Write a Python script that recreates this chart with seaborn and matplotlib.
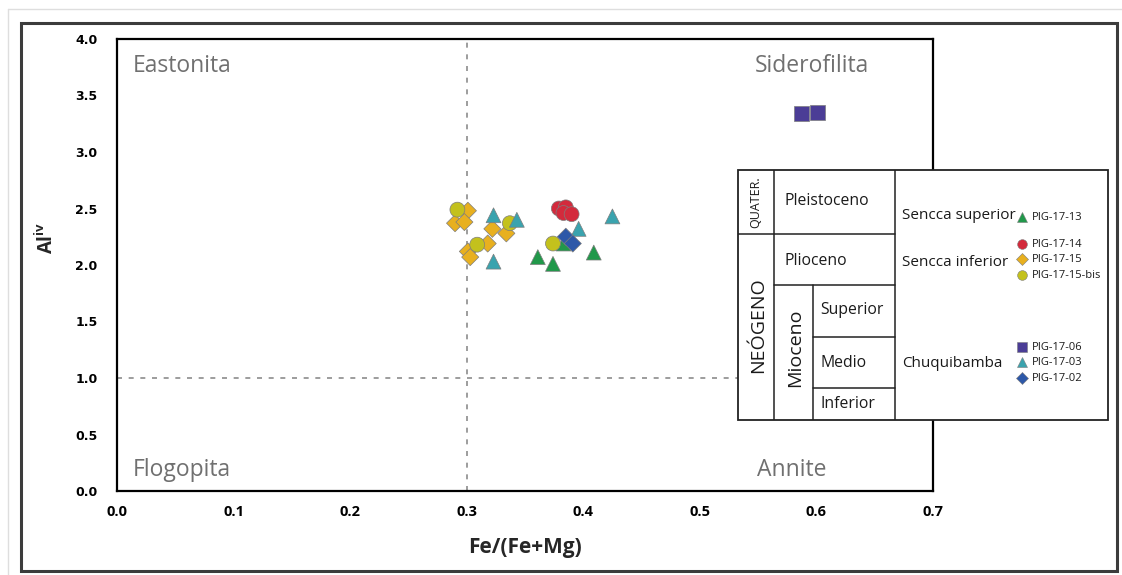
import numpy as np
import pandas as pd
import matplotlib
matplotlib.use("Agg")
import matplotlib.pyplot as plt
from matplotlib.lines import Line2D
from matplotlib.patches import Rectangle
import seaborn as sns

# ---- biotite analyses: Fe/(Fe+Mg) vs Al(iv), per sample ----
s13_fe = [0.361, 0.374, 0.409, 0.383]
s13_al = [2.07, 2.01, 2.11, 2.19]

s15_fe = [0.301, 0.290, 0.298, 0.301, 0.303, 0.318, 0.322, 0.334]
s15_al = [2.48, 2.37, 2.38, 2.12, 2.07, 2.19, 2.32, 2.28]

s15bis_fe = [0.292, 0.309, 0.337, 0.374]
s15bis_al = [2.49, 2.18, 2.37, 2.19]

s03_fe = [0.323, 0.343, 0.323, 0.396, 0.425]
s03_al = [2.44, 2.40, 2.03, 2.32, 2.43]

s02_fe = [0.385, 0.391]
s02_al = [2.25, 2.19]

s14_fe = [0.379, 0.385, 0.383, 0.390]
s14_al = [2.50, 2.51, 2.46, 2.45]

s06_fe = [0.587, 0.601]
s06_al = [3.34, 3.35]

x_ticks = [0.0, 0.1, 0.2, 0.3, 0.4, 0.5, 0.6, 0.7]
y_ticks = [0.0, 0.5, 1.0, 1.5, 2.0, 2.5, 3.0, 3.5, 4.0]

# draw order (later rows on top)
groups = [
    ("PIG-17-13", s13_fe, s13_al),
    ("PIG-17-15", s15_fe, s15_al),
    ("PIG-17-15-bis", s15bis_fe, s15bis_al),
    ("PIG-17-03", s03_fe, s03_al),
    ("PIG-17-02", s02_fe, s02_al),
    ("PIG-17-14", s14_fe, s14_al),
    ("PIG-17-06", s06_fe, s06_al),
]
df = pd.concat(
    [pd.DataFrame({"sample": name, "fe": fe, "al": al}) for name, fe, al in groups],
    ignore_index=True,
)

palette = {
    "PIG-17-13": "#21984a",
    "PIG-17-14": "#d32a3c",
    "PIG-17-15": "#e8b01f",
    "PIG-17-15-bis": "#c3c11d",
    "PIG-17-06": "#4b3d96",
    "PIG-17-03": "#3aa3ae",
    "PIG-17-02": "#2d58a8",
}
markers = {
    "PIG-17-13": "^",
    "PIG-17-14": "o",
    "PIG-17-15": "D",
    "PIG-17-15-bis": "o",
    "PIG-17-06": "s",
    "PIG-17-03": "^",
    "PIG-17-02": "D",
}
# diamonds are drawn smaller so their diagonal matches the other symbols
df["shape"] = np.where(df["sample"].map(markers) == "D", "diamond", "other")
shape_sizes = {"diamond": 76, "other": 115}

sns.set_theme(style="white")
plt.rcParams["font.family"] = ["Open Sans", "DejaVu Sans"]

W, H = 1122, 575
fig = plt.figure(figsize=(W / 100, H / 100), dpi=100)
fig.patch.set_facecolor("white")

ax = fig.add_axes([117 / W, 1 - 491 / H, (933 - 117) / W, (491 - 39) / H])
ax.set_facecolor("white")

# classification boundaries
ax.axvline(0.3, color="#8c8c8c", lw=1.2, ls=(0, (3, 4)), zorder=1)
ax.axhline(1.0, color="#8c8c8c", lw=1.2, ls=(0, (3, 4)), zorder=1)

sns.scatterplot(
    data=df, x="fe", y="al", hue="sample", style="sample",
    size="shape", sizes=shape_sizes,
    palette=palette, markers=markers,
    edgecolor="#7d7d7d", linewidth=0.5, legend=False, ax=ax, zorder=3,
)

ax.set_xlim(0, 0.7)
ax.set_ylim(0, 4)
ax.set_xticks(x_ticks)
ax.set_xticklabels([f"{v:.1f}" for v in x_ticks], fontsize=10.5, fontweight="bold")
ax.set_yticks(y_ticks)
ax.set_yticklabels([f"{v:.1f}" for v in y_ticks], fontsize=9, fontweight="bold",
                   family="DejaVu Sans")
ax.tick_params(axis="y", direction="out", length=6, width=1.2, pad=8, colors="black")
ax.tick_params(axis="x", direction="inout", length=8, width=1.2, pad=6, colors="black")
for sp in ax.spines.values():
    sp.set_color("black")
    sp.set_linewidth(1.6)

ax.set_xlabel("Fe/(Fe+Mg)", fontsize=15, fontweight="bold")
ax.xaxis.set_label_coords(0.5, -0.126)
ax.xaxis.label.set_va("center")
ax.set_ylabel(r"Al$^{\mathregular{iv}}$", fontsize=13.5, fontweight="bold")
ax.yaxis.set_label_coords(-0.086, 0.56)
ax.yaxis.label.set_va("center")

# mica end-member fields
field_kw = dict(fontsize=16.5, color="#707070", ha="left", va="baseline")
ax.text(0.0137, 3.71, "Eastonita", **field_kw)
ax.text(0.547, 3.71, "Siderofilita", **field_kw)
ax.text(0.0137, 0.135, "Flogopita", **field_kw)
ax.text(0.549, 0.135, "Annite", **field_kw)

# ---- stratigraphic legend table (drawn in its own pixel-based axes) ----
tx = fig.add_axes([738 / W, 1 - 420 / H, (1108 - 738) / W, (420 - 170) / H])
tx.set_xlim(738, 1108)
tx.set_ylim(420, 170)
tx.axis("off")
tx.add_patch(Rectangle((738, 170), 370, 250, facecolor="white",
                       edgecolor="#222222", lw=1.3, clip_on=False))
line_kw = dict(color="#222222", lw=1.1)
tx.plot([774, 774], [170, 420], **line_kw)
tx.plot([813, 813], [285, 420], **line_kw)
tx.plot([895, 895], [170, 420], **line_kw)
tx.plot([738, 895], [234, 234], **line_kw)
tx.plot([774, 895], [285, 285], **line_kw)
tx.plot([813, 895], [337, 337], **line_kw)
tx.plot([813, 895], [388, 388], **line_kw)

tk = dict(color="#1a1a1a", va="center")
tx.text(756, 202, "QUATER.", rotation=90, ha="center", fontsize=9, **tk)
tx.text(758, 325, "NEÓGENO", rotation=90, ha="center", fontsize=14, **tk)
tx.text(795, 348, "Mioceno", rotation=90, ha="center", fontsize=14, **tk)
tx.text(785, 201, "Pleistoceno", ha="left", fontsize=11.3, **tk)
tx.text(785, 261, "Plioceno", ha="left", fontsize=11.3, **tk)
tx.text(820, 310, "Superior", ha="left", fontsize=11.3, **tk)
tx.text(820, 363, "Medio", ha="left", fontsize=11.3, **tk)
tx.text(820, 404, "Inferior", ha="left", fontsize=11.3, **tk)
tx.text(902, 215, "Sencca superior", ha="left", fontsize=11, **tk)
tx.text(902, 262, "Sencca inferior", ha="left", fontsize=11, **tk)
tx.text(902, 363, "Chuquibamba", ha="left", fontsize=11, **tk)

legend_rows = [
    ("PIG-17-13", 217), ("PIG-17-14", 244), ("PIG-17-15", 259),
    ("PIG-17-15-bis", 275), ("PIG-17-06", 347), ("PIG-17-03", 362),
    ("PIG-17-02", 378),
]
for name, yy in legend_rows:
    ms = 6.0 if markers[name] == "D" else 7.0
    tx.plot([1022], [yy], marker=markers[name], ms=ms, color=palette[name],
            mec="#7d7d7d", mew=0.4, ls="none")
    tx.text(1032, yy, name, ha="left", fontsize=8, **tk)

# outer frame and page edge
fig.add_artist(Rectangle((21 / W, 1 - 571 / H), (1117 - 21) / W, (571 - 23) / H,
                         transform=fig.transFigure, fill=False,
                         edgecolor="#3c3c3c", lw=2.2))
fig.add_artist(Line2D([8 / W, 1], [1 - 9 / H, 1 - 9 / H], transform=fig.transFigure,
                      color="#dedede", lw=1))
fig.add_artist(Line2D([8 / W, 8 / W], [0, 1 - 9 / H], transform=fig.transFigure,
                      color="#dedede", lw=1))

fig.savefig("out.png", dpi=100, facecolor="white")
